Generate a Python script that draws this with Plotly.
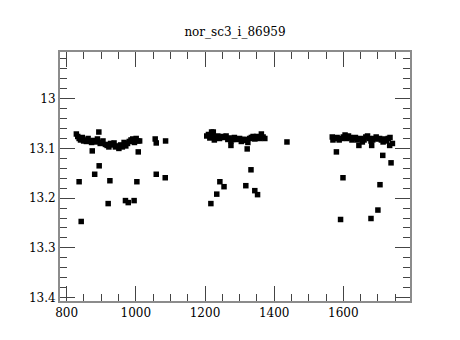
import plotly.graph_objects as go

title_text = "nor_sc3_i_86959"

# Segment 1 (around 830-1090)
x1 = [828, 832, 836, 840, 845, 849, 852, 857, 862, 867, 872, 878, 884, 889, 897, 900, 905,
      912, 917, 922, 927, 932, 937, 941, 946, 951, 956, 961, 966, 971, 976, 981, 986, 991,
      996, 1001, 1006, 1011,
      836, 842, 874, 881, 893, 894, 920, 925, 970, 978, 995, 1003, 1007,
      1056, 1059, 1059, 1086, 1085]
y1 = [13.071, 13.076, 13.080, 13.083, 13.078, 13.085, 13.083, 13.086, 13.080, 13.085, 13.088,
      13.084, 13.087, 13.081, 13.090, 13.088, 13.085, 13.092, 13.094, 13.097, 13.090, 13.093,
      13.089, 13.097, 13.095, 13.100, 13.093, 13.097, 13.088, 13.095, 13.090, 13.086, 13.083,
      13.081, 13.088, 13.080, 13.085, 13.085,
      13.167, 13.247, 13.105, 13.152, 13.067, 13.135, 13.211, 13.165, 13.205, 13.209, 13.205,
      13.167, 13.107,
      13.081, 13.089, 13.152, 13.085, 13.159]

# Segment 2 (around 1195-1440)
x2 = [1205, 1210, 1214, 1219, 1222, 1227, 1232, 1237, 1242, 1247, 1252, 1256, 1261, 1266,
      1270, 1275, 1280, 1285, 1290, 1295, 1300, 1305, 1310, 1314, 1319, 1324, 1329, 1334,
      1339, 1344, 1349, 1353, 1358, 1363, 1368, 1373,
      1275, 1322, 1437,
      1217, 1224, 1234, 1243, 1255, 1318, 1333, 1344, 1352]
y2 = [13.075, 13.072, 13.079, 13.067, 13.076, 13.083, 13.079, 13.075, 13.080, 13.077, 13.076,
      13.078, 13.075, 13.082, 13.079, 13.085, 13.082, 13.078, 13.082, 13.081, 13.080, 13.086,
      13.082, 13.082, 13.084, 13.088, 13.080, 13.078, 13.076, 13.081, 13.076, 13.078, 13.080,
      13.071, 13.077, 13.080,
      13.094, 13.101, 13.087,
      13.211, 13.067, 13.192, 13.167, 13.177, 13.175, 13.143, 13.185, 13.193]

# Segment 3 (around 1565-1745)
x3 = [1568, 1570, 1575, 1582, 1588, 1595, 1600, 1605, 1610, 1615, 1620, 1625, 1630, 1635,
      1640, 1645, 1650, 1655, 1660, 1665, 1670, 1675, 1680, 1682, 1685, 1690, 1695, 1700,
      1705, 1710, 1715, 1720, 1725, 1730, 1735, 1734, 1742,
      1580, 1599, 1592, 1680, 1700, 1706, 1714, 1738]
y3 = [13.077, 13.083, 13.080, 13.078, 13.083, 13.080, 13.077, 13.073, 13.080, 13.075, 13.078,
      13.083, 13.080, 13.078, 13.083, 13.094, 13.080, 13.087, 13.083, 13.077, 13.075, 13.080,
      13.085, 13.094, 13.083, 13.080, 13.077, 13.081, 13.080, 13.083, 13.087, 13.081, 13.085,
      13.080, 13.078, 13.094, 13.090,
      13.107, 13.159, 13.243, 13.241, 13.224, 13.173, 13.114, 13.129]

x_all = x1 + x2 + x3
y_all = y1 + y2 + y3

fig = go.Figure()
fig.add_trace(go.Scatter(
    x=x_all, y=y_all, mode="markers",
    marker=dict(symbol="square", size=5.5, color="black", line=dict(width=0)),
    showlegend=False,
))

font_family = "DejaVu Serif"
axis_common = dict(
    showgrid=False, zeroline=False, showline=True, linecolor="#8c8c8c", linewidth=2,
    mirror="allticks", ticks="inside", ticklen=15, tickwidth=1, tickcolor="#444",
    tickfont=dict(family=font_family, size=12, color="black"),
)

fig.update_layout(
    width=460, height=340,
    margin=dict(l=52, r=58, t=44, b=47),
    paper_bgcolor="white", plot_bgcolor="white",
    title=dict(text=title_text, x=0.4935, xanchor="center", y=0.93, yanchor="middle",
               font=dict(family=font_family, size=12, color="black")),
    xaxis=dict(range=[780.7, 1792.8], tickvals=[800, 1000, 1200, 1400, 1600],
               minor=dict(dtick=50, tick0=800, ticklen=7, tickcolor="#444", ticks="inside"),
               **axis_common),
    yaxis=dict(range=[13.407, 12.906], tickvals=[13.0, 13.1, 13.2, 13.3, 13.4],
               ticktext=["13", "13.1", "13.2", "13.3", "13.4"],
               minor=dict(dtick=0.02, tick0=13.0, ticklen=7, tickcolor="#444", ticks="inside"),
               **axis_common),
)

fig.write_html("out.html")
